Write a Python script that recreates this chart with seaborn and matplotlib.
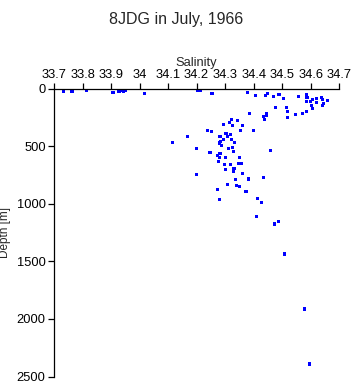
import numpy as np
import pandas as pd
import matplotlib
matplotlib.use("Agg")
import matplotlib.pyplot as plt
import seaborn as sns

# salinity / depth pairs
salinity = [
    33.732, 33.732, 33.763, 33.814, 33.907, 33.928, 33.938, 33.944, 33.949, 34.016,
    34.205, 34.215, 34.254, 34.377, 34.405, 34.442, 34.449, 34.468, 34.489, 34.505,
    34.475, 34.515, 34.520, 34.518, 34.546, 34.556, 34.572, 34.584, 34.587, 34.584,
    34.584, 34.598, 34.605, 34.604, 34.605, 34.620, 34.619, 34.637, 34.640, 34.645,
    34.640, 34.658,
    34.321, 34.343, 34.325, 34.360, 34.315, 34.293, 34.384, 34.435, 34.438, 34.444,
    34.444, 34.237, 34.251, 34.353, 34.398, 34.303, 34.318, 34.309, 34.282, 34.321,
    34.293, 34.332, 34.280, 34.285, 34.286, 34.313, 34.325, 34.328, 34.247, 34.458,
    34.272, 34.282, 34.280, 34.302, 34.349, 34.278, 34.319, 34.347, 34.356, 34.299,
    34.331, 34.328, 34.300, 34.362, 34.382, 34.433, 34.335, 34.309, 34.340, 34.349,
    34.272, 34.373, 34.412, 34.279,
    34.114, 34.167, 34.201, 34.201,
    34.426, 34.409, 34.486, 34.472, 34.507, 34.577, 34.596,
]
depth = [
    11, 23, 20, 11, 29, 20, 11, 20, 11, 37,
    11, 17, 37, 32, 55, 58, 37, 64, 46, 87,
    159, 159, 194, 246, 220, 64, 217, 52, 72, 194,
    107, 113, 90, 148, 168, 81, 122, 72, 90, 125,
    145, 98,
    264, 272, 316, 316, 293, 310, 211, 243, 263, 211,
    232, 359, 368, 362, 359, 385, 394, 414, 411, 437,
    443, 467, 470, 461, 490, 516, 507, 542, 550, 536,
    577, 565, 600, 600, 600, 629, 655, 646, 646, 655,
    690, 716, 698, 733, 783, 774, 791, 829, 843, 852,
    872, 890, 950, 962,
    467, 417, 516, 745,
    985, 1110, 1150, 1174, 1435, 1913, 2391,
]

sal_ticks = [33.7, 33.8, 33.9, 34.0, 34.1, 34.2, 34.3, 34.4, 34.5, 34.6, 34.7]
sal_labels = ["33.7", "33.8", "33.9", "34", "34.1", "34.2", "34.3", "34.4", "34.5", "34.6", "34.7"]
depth_ticks = [0, 500, 1000, 1500, 2000, 2500]

sns.set_style("ticks")
plt.rcParams["font.family"] = ["Liberation Sans", "DejaVu Sans"]

df = pd.DataFrame({"Salinity": salinity, "Depth": depth})

fig = plt.figure(figsize=(3.53, 3.84), dpi=100)
ax = fig.add_axes([0.153, 0.0195, 0.808, 0.749])

sns.scatterplot(data=df, x="Salinity", y="Depth", marker="s", s=5,
                color="#0000ff", edgecolor="none", linewidth=0, ax=ax)

ax.set_xlim(33.7, 34.7)
ax.set_ylim(2500, 0)
ax.xaxis.set_label_position("top")
ax.xaxis.tick_top()
ax.set_xticks(sal_ticks)
ax.set_xticklabels(sal_labels)
ax.set_yticks(depth_ticks)
ax.tick_params(axis="both", labelsize=9.3, length=4, width=0.9, colors="black",
               direction="out", pad=2)
ax.set_xlabel("Salinity", fontsize=9.3, labelpad=2)
ax.set_ylabel("Depth [m]", fontsize=8.5, labelpad=4)

for side in ("right", "bottom"):
    ax.spines[side].set_visible(False)
for side in ("left", "top"):
    ax.spines[side].set_linewidth(0.9)
    ax.spines[side].set_color("black")

fig.suptitle("8JDG in July, 1966", fontsize=11.5, y=0.968)

fig.savefig("out.png", dpi=100, facecolor="white")
